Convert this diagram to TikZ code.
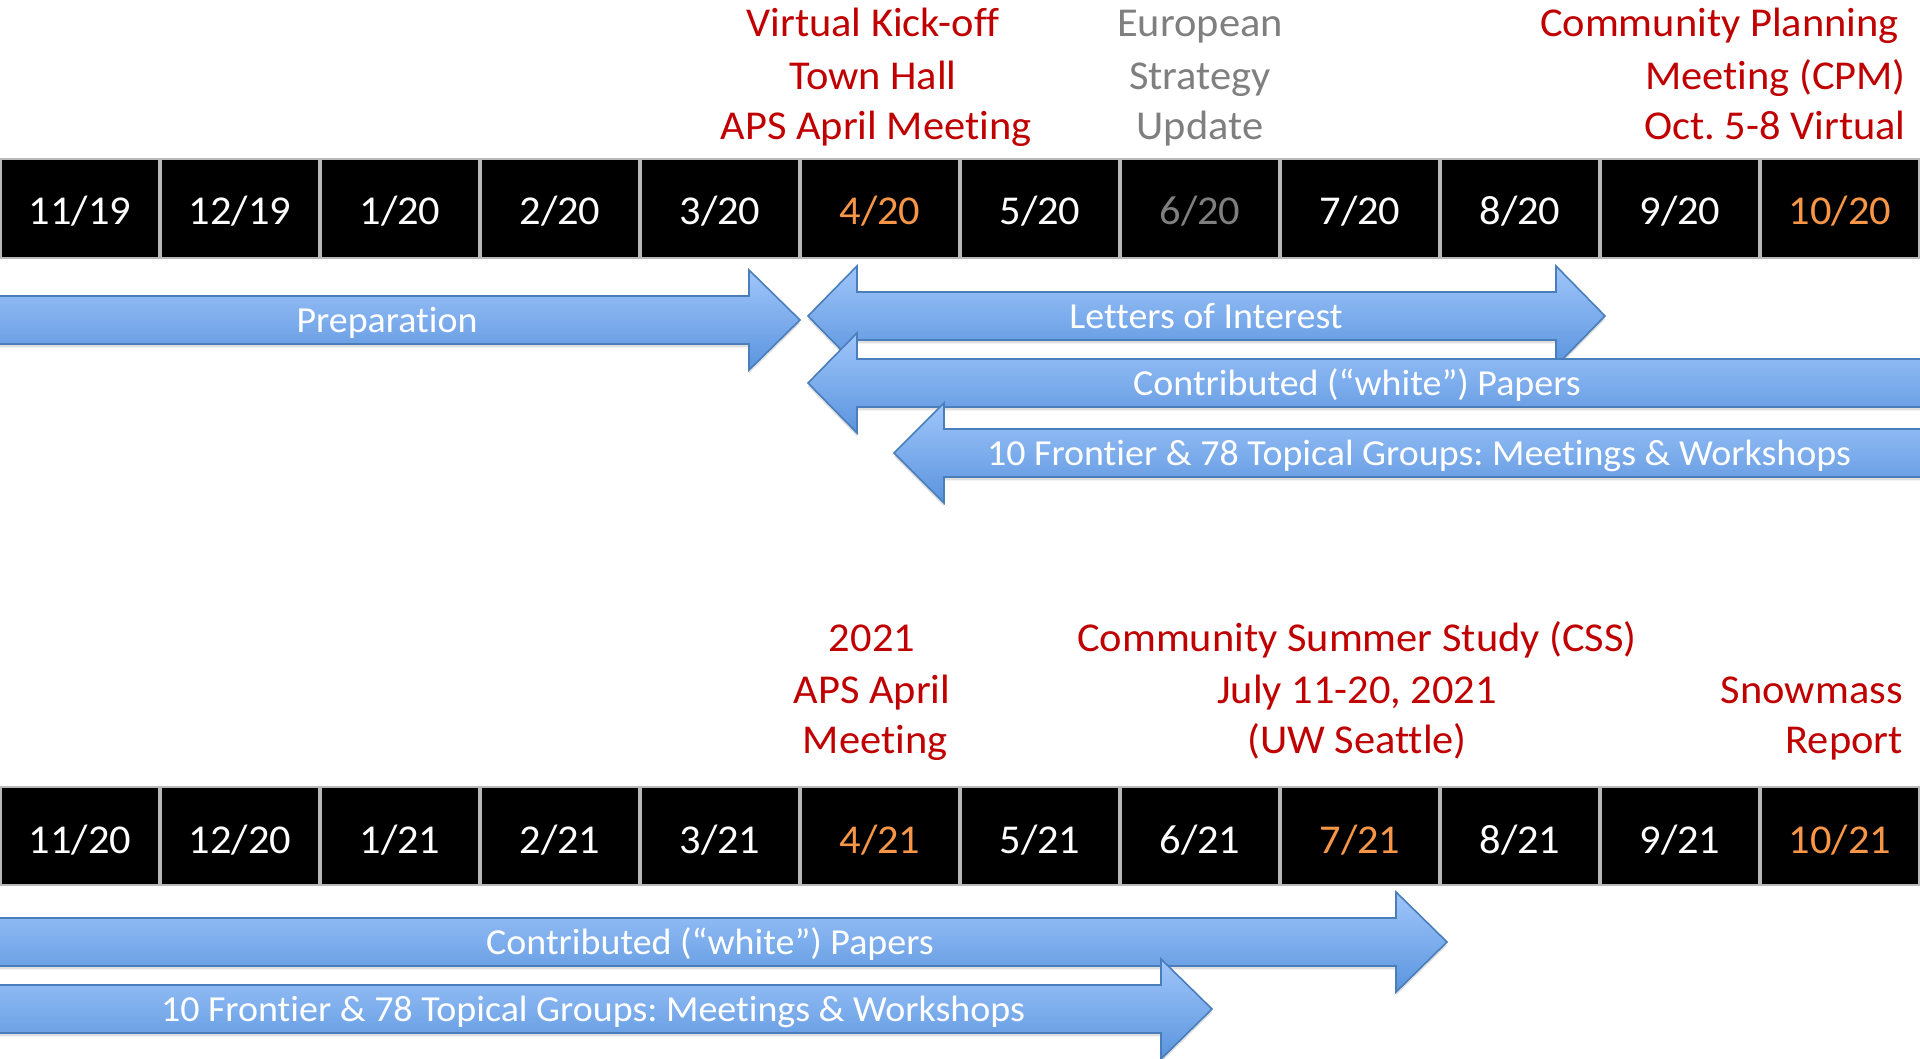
\documentclass[tikz,border=0pt]{standalone}
\usepackage{fontspec}
\setmainfont{Carlito}[Ligatures={NoCommon}, FakeStretch=1.035]
\frenchspacing
\usetikzlibrary{shadows}
\definecolor{lblred}{RGB}{192,0,0}
\definecolor{lblgray}{RGB}{127,127,127}
\definecolor{dorange}{RGB}{247,150,70}
\definecolor{arrtop}{RGB}{160,198,250}
\definecolor{arrbot}{RGB}{90,148,222}
\definecolor{arrline}{RGB}{74,126,187}
\tikzset{
  cell/.style={fill=black, draw=gray!55, line width=1.5},
  datetxt/.style={anchor=base, text=white, inner sep=0pt, font=\fontsize{30.75}{37}\selectfont},
  lbl/.style={anchor=base, inner sep=0pt, font=\fontsize{30.75}{37}\selectfont},
  band/.style={top color=arrtop, bottom color=arrbot, draw=arrline, line width=1.2, line join=miter,
     drop shadow={shadow xshift=0pt, shadow yshift=-2.5pt, opacity=0.25}},
  bandtxt/.style={text=white, anchor=base, inner sep=0pt, font=\fontsize{27.5}{33}\selectfont},
}
\begin{document}
\begin{tikzpicture}[x=0.75pt, y=-0.75pt]
\useasboundingbox (0,0) rectangle (1920,1059);
\fill[white] (0,0) rectangle (1920,1059);

% ---- top timeline
\foreach \i/\t/\c in {0/11\slash19/white,1/12\slash19/white,2/1\slash20/white,3/2\slash20/white,4/3\slash20/white,5/4\slash20/dorange,6/5\slash20/white,7/6\slash20/lblgray,8/7\slash20/white,9/8\slash20/white,10/9\slash20/white,11/10\slash20/dorange}{
  \path[cell] ({\i*160+1},159) rectangle ({\i*160+159},258);
  \node[datetxt, text=\c] (ta\i) at ({\i*160+80},225) {\t};
}

% ---- bottom timeline
\foreach \i/\t/\c in {0/11\slash20/white,1/12\slash20/white,2/1\slash21/white,3/2\slash21/white,4/3\slash21/white,5/4\slash21/dorange,6/5\slash21/white,7/6\slash21/white,8/7\slash21/dorange,9/8\slash21/white,10/9\slash21/white,11/10\slash21/dorange}{
  \path[cell] ({\i*160+1},787) rectangle ({\i*160+159},885);
  \node[datetxt, text=\c] (tb\i) at ({\i*160+80},853) {\t};
}

% ---- top labels
\node[lbl, text=lblred] (kick1) at (873,37) {Virtual Kick-off};
\node[lbl, text=lblred] (kick2) at (873,90) {Town Hall};
\node[lbl, text=lblred] (kick3) at (876,140) {APS April Meeting};
\node[lbl, text=lblgray] (eu1) at (1200,37) {European};
\node[lbl, text=lblgray] (eu2) at (1200,90) {Strategy};
\node[lbl, text=lblgray] (eu3) at (1200,140) {Update};
\node[lbl, anchor=base east, text=lblred] (cpm1) at (1899,37) {Community Planning};
\node[lbl, anchor=base east, text=lblred] (cpm2) at (1906,90) {Meeting (CPM)};
\node[lbl, anchor=base east, text=lblred] (cpm3) at (1906,140) {Oct. 5-8 Virtual};

% ---- bottom labels
\node[lbl, text=lblred] (aps1) at (872,651) {2021};
\node[lbl, text=lblred] (aps2) at (872,703) {APS April};
\node[lbl, text=lblred] (aps3) at (875,753) {Meeting};
\node[lbl, text=lblred] (css1) at (1357,651) {Community Summer Study (CSS)};
\node[lbl, text=lblred] (css2) at (1357,703) {July 11-20, 2021};
\node[lbl, text=lblred] (css3) at (1357,753) {(UW Seattle)};
\node[lbl, anchor=base east, text=lblred] (sm1) at (1903,703) {Snowmass};
\node[lbl, anchor=base east, text=lblred] (sm2) at (1903,753) {Report};

% ---- top arrows
\path[band] (-3,296) -- (749,296) -- (749,270) -- (800,320) -- (749,370) -- (749,344) -- (-3,344) -- cycle;
\node[bandtxt] (prep) at (387,332) {Preparation};

\path[band] (808,316) -- (857,266) -- (857,292) -- (1556,292) -- (1556,266) -- (1605,316) -- (1556,366) -- (1556,340) -- (857,340) -- (857,366) -- cycle;
\node[bandtxt] (loi) at (1206,328) {Letters of Interest};

\path[band] (808,383) -- (857,333) -- (857,359) -- (1925,359) -- (1925,407) -- (857,407) -- (857,433) -- cycle;
\node[bandtxt] (cpa) at (1357,395) {Contributed (“white”) Papers};

\path[band] (894,453) -- (944,403) -- (944,429) -- (1925,429) -- (1925,477) -- (944,477) -- (944,503) -- cycle;
\node[bandtxt] (fra) at (1419,465) {10 Frontier \& 78 Topical Groups: Meetings \& Workshops};

% ---- bottom arrows
\path[band] (-3,918) -- (1396,918) -- (1396,892) -- (1447,942) -- (1396,992) -- (1396,966) -- (-3,966) -- cycle;
\node[bandtxt] (cpb) at (710,954) {Contributed (“white”) Papers};

\path[band] (-3,985) -- (1161,985) -- (1161,959) -- (1212,1009) -- (1161,1059) -- (1161,1033) -- (-3,1033) -- cycle;
\node[bandtxt] (frb) at (593,1021) {10 Frontier \& 78 Topical Groups: Meetings \& Workshops};
\end{tikzpicture}
\end{document}
